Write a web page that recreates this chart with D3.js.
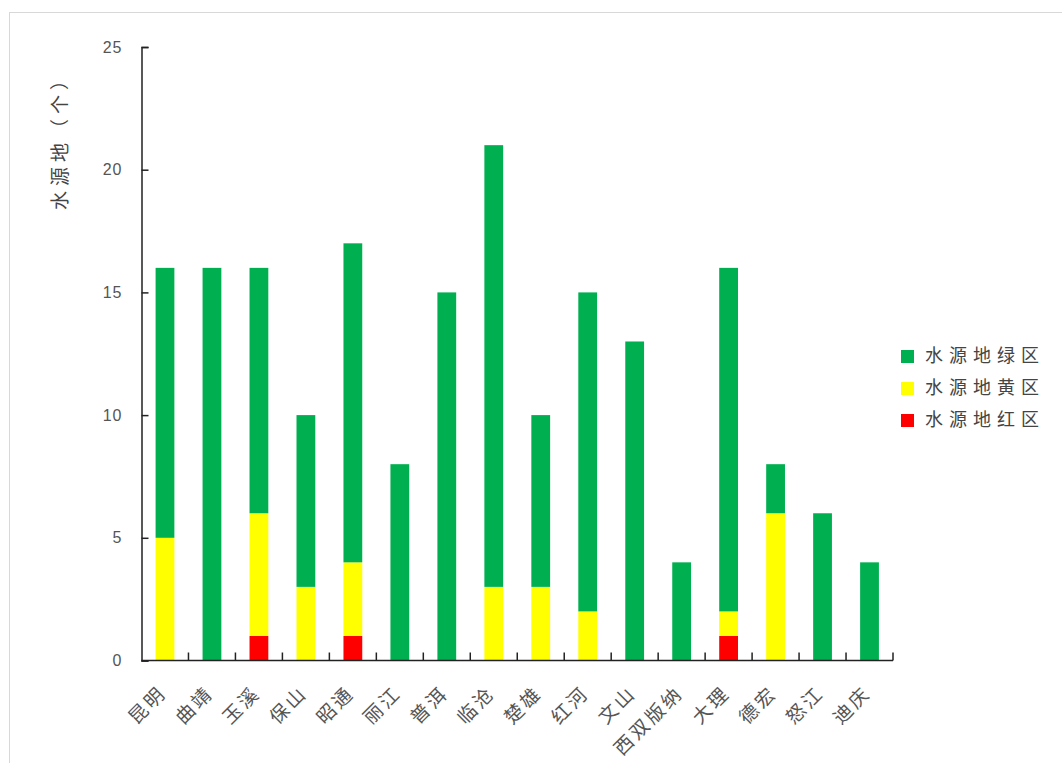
<!DOCTYPE html>
<html><head><meta charset="utf-8">
<script src="https://cdn.jsdelivr.net/npm/d3@7"></script>
<style>body{margin:0;background:#fff;}svg{display:block;}</style>
</head><body>
<svg id="c" width="1062" height="763"></svg>
<script>
const categories = ["昆明","曲靖","玉溪","保山","昭通","丽江","普洱","临沧","楚雄","红河","文山","西双版纳","大理","德宏","怒江","迪庆"];
const redValues    = [0,0,1,0,1,0,0,0,0,0,0,0,1,0,0,0];
const yellowValues = [5,0,5,3,3,0,0,3,3,2,0,0,1,6,0,0];
const greenValues  = [11,16,10,7,13,8,15,18,7,13,13,4,14,2,6,4];
const seriesNames = ["水源地红区","水源地黄区","水源地绿区"];
const seriesColors = ["#FF0000","#FFFF00","#00B050"];
const yTicks = [0,5,10,15,20,25];

const svg = d3.select("#c");
svg.append("rect").attr("x",9.5).attr("y",12.5).attr("width",1062).attr("height",760)
  .attr("fill","none").attr("stroke","#d8d8d8");

const x0 = 141.5, x1 = 893, yTop = 47, yBot = 660.5;
const x = d3.scaleBand().domain(categories).range([x0,x1]).paddingInner(0.6).paddingOuter(0.3);
const y = d3.scaleLinear().domain([0,25]).range([yBot,yTop]);

const rows = categories.map((c,i)=>({cat:c, r:redValues[i], y:yellowValues[i], g:greenValues[i]}));
const stack = d3.stack().keys(["r","y","g"])(rows);

svg.append("g").selectAll("g").data(stack).join("g")
  .attr("fill",(d,i)=>seriesColors[i])
  .selectAll("rect").data(d=>d).join("rect")
  .attr("x",d=>x(d.data.cat)).attr("width",x.bandwidth())
  .attr("y",d=>y(d[1])).attr("height",d=>y(d[0])-y(d[1]));

// y axis
const ya = svg.append("g").attr("transform",`translate(${x0},0)`)
  .call(d3.axisLeft(y).tickValues(yTicks).tickSize(-7).tickPadding(19).tickFormat(d3.format("d")));
ya.select(".domain").attr("stroke","#222").attr("stroke-width",1.5);
ya.selectAll(".tick line").attr("stroke","#222").attr("stroke-width",1.5);
ya.selectAll("text").attr("font-family","Liberation Sans, Arial, sans-serif").attr("font-size",16)
  .attr("letter-spacing",1).attr("fill","#555");

// x axis
const step = (x1-x0)/categories.length;
const xa = svg.append("g").attr("transform",`translate(0,${yBot})`);
xa.append("line").attr("x1",x0).attr("x2",x1).attr("y1",0).attr("y2",0).attr("stroke","#222").attr("stroke-width",1.5);
const bounds = d3.range(1,categories.length+1).map(i=>x0+i*step);
xa.selectAll("line.t").data(bounds).join("line").attr("class","t")
  .attr("x1",d=>d).attr("x2",d=>d).attr("y1",0).attr("y2",-8).attr("stroke","#222").attr("stroke-width",1.5);
xa.selectAll("text").data(categories).join("text")
  .attr("transform",d=>`translate(${x(d)+x.bandwidth()/2-1},${30}) rotate(-45)`)
  .attr("text-anchor","end").attr("dominant-baseline","middle")
  .attr("font-family","Noto Sans CJK SC, sans-serif").attr("font-size",19).attr("letter-spacing",3).attr("fill","#555")
  .text(d=>d);

// y title
svg.append("text").attr("transform","translate(62,138) rotate(-90)")
  .attr("text-anchor","middle").attr("dominant-baseline","middle")
  .attr("font-family","Noto Sans CJK SC, sans-serif").attr("font-size",19).attr("letter-spacing",5).attr("fill","#444")
  .text("水源地（个）");

// legend
const legendOrder = [2,1,0];
const lg = svg.append("g").selectAll("g").data(legendOrder).join("g")
  .attr("transform",(d,i)=>`translate(901,${356+i*32})`);
lg.append("rect").attr("x",0).attr("y",-6).attr("width",13).attr("height",13).attr("fill",d=>seriesColors[d]);
lg.append("text").attr("x",24).attr("y",1).attr("dominant-baseline","middle")
  .attr("font-family","Noto Sans CJK SC, sans-serif").attr("font-size",18).attr("letter-spacing",6).attr("fill","#444")
  .text(d=>seriesNames[d]);
</script>
</body></html>
